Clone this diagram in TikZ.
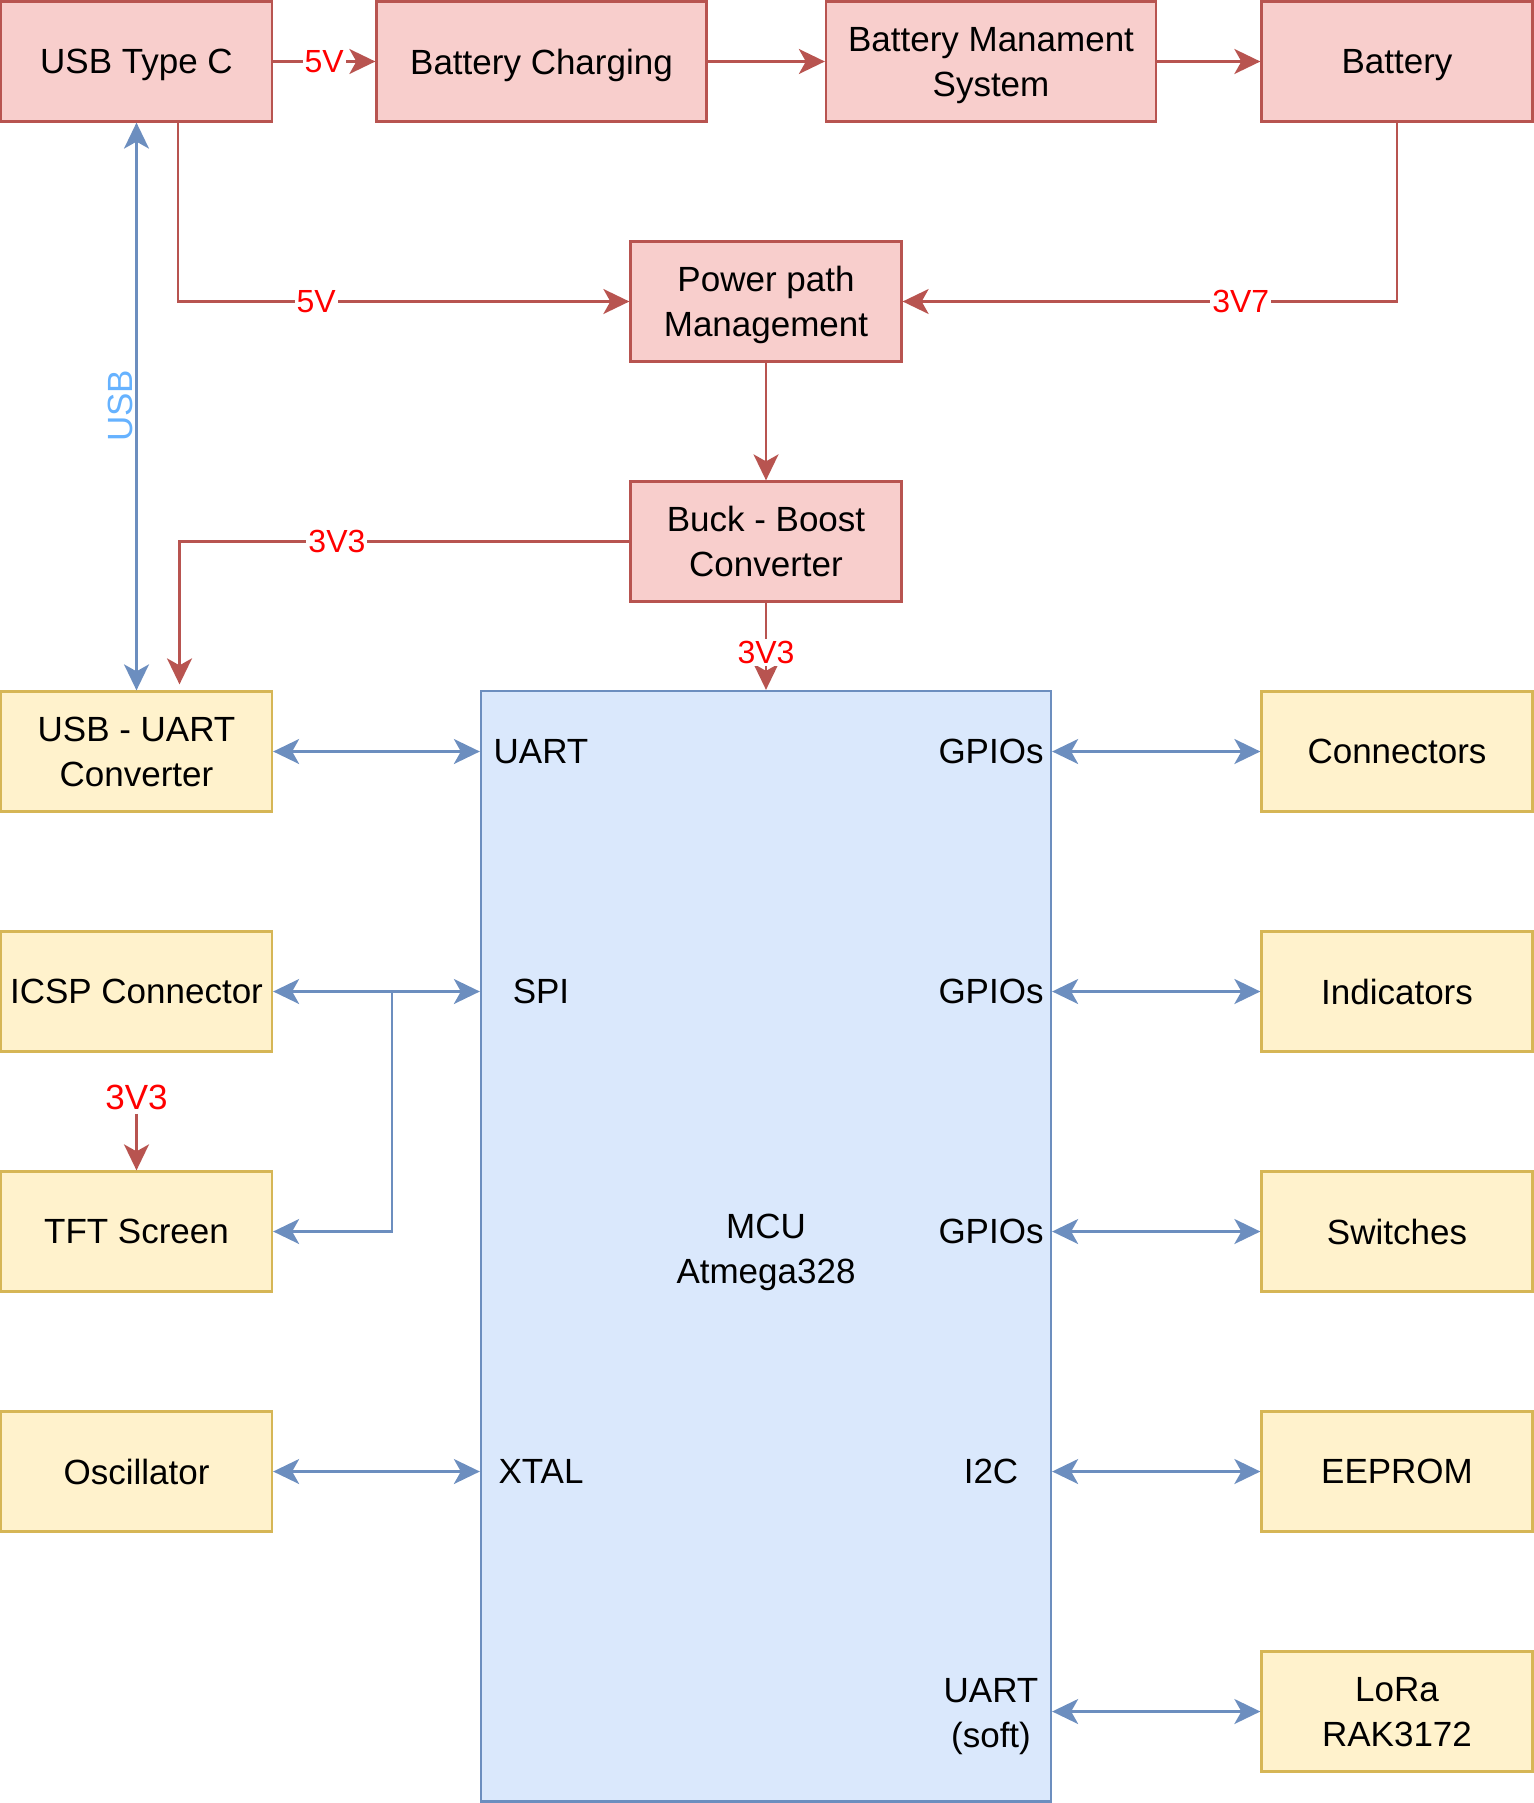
\documentclass[tikz,border=0pt]{standalone}
\usepackage{fontspec}
\setmainfont{Liberation Sans}
\usetikzlibrary{arrows.meta,calc}
\definecolor{rfill}{HTML}{F8CECC}
\definecolor{rdraw}{HTML}{B85450}
\definecolor{yfill}{HTML}{FFF2CC}
\definecolor{ydraw}{HTML}{D6B656}
\definecolor{bfill}{HTML}{DAE8FC}
\definecolor{bdraw}{HTML}{6C8EBF}
\definecolor{lblred}{HTML}{FF0000}
\definecolor{usbblue}{HTML}{66B2FF}
\begin{document}
\begin{tikzpicture}[x=0.5pt,y=-0.5pt,
  box/.style={draw, line width=1.15pt, minimum width=135.5pt, minimum height=60pt,
    inner sep=0pt, align=center, text depth=0pt, font=\fontsize{17.5}{22.5}\selectfont},
  rbox/.style={box, fill=rfill, draw=rdraw},
  ybox/.style={box, fill=yfill, draw=ydraw},
  widebox/.style={minimum width=165pt},
  txt/.style={font=\fontsize{17.5}{22.5}\selectfont, align=center, inner sep=0pt, text depth=0pt},
  lbl/.style={font=\fontsize{16}{19}\selectfont, text=lblred, fill=white, inner sep=1pt},
  pwr/.style={draw=rdraw, line width=1.15pt, -{Stealth[length=13pt,width=12.5pt,inset=3.5pt]}},
  sig/.style={draw=bdraw, line width=1.15pt,
    {Stealth[length=13pt,width=12.5pt,inset=3.5pt]}-{Stealth[length=13pt,width=12.5pt,inset=3.5pt]}},
  sigone/.style={draw=bdraw, line width=1.15pt, -{Stealth[length=13pt,width=12.5pt,inset=3.5pt]}},
]
\useasboundingbox (0,0) rectangle (1533,1803);

% MCU
\node[box, fill=bfill, draw=bdraw, minimum width=285pt, minimum height=555.25pt] (mcu) at (766,1246.25) {};
\node[txt] (mcutxt) at (766,1249) {MCU\\Atmega328};

% top row
\node[rbox] (usbc) at (136.5,61.5) {USB Type C};
\node[rbox, widebox] (chg) at (541.5,61.5) {Battery Charging};
\node[rbox, widebox] (bms) at (991,61.5) {Battery Manament\\System};
\node[rbox] (bat) at (1397,61.5) {Battery};
\node[rbox] (pp) at (766,301.5) {Power path\\Management};
\node[rbox] (buck) at (766,541.5) {Buck - Boost\\Converter};

% left column
\node[ybox] (uartc) at (136.5,751.5) {USB - UART\\Converter};
\node[ybox] (icsp) at (136.5,991.5) {ICSP Connector};
\node[ybox] (tft) at (136.5,1231.5) {TFT Screen};
\node[ybox] (osc) at (136.5,1471.5) {Oscillator};

% right column
\node[ybox] (conn) at (1397,751.5) {Connectors};
\node[ybox] (ind) at (1397,991.5) {Indicators};
\node[ybox] (sw) at (1397,1231.5) {Switches};
\node[ybox] (eep) at (1397,1471.5) {EEPROM};
\node[ybox] (lora) at (1397,1711.5) {LoRa\\RAK3172};

% MCU pin labels
\node[txt] (puart) at (541,751.5) {UART};
\node[txt] (pspi) at (541,991.5) {SPI};
\node[txt] (pxtal) at (541,1471.5) {XTAL};
\node[txt] (pg1) at (991,751.5) {GPIOs};
\node[txt] (pg2) at (991,991.5) {GPIOs};
\node[txt] (pg3) at (991,1231.5) {GPIOs};
\node[txt] (pi2c) at (991,1471.5) {I2C};
\node[txt] (psoft) at (991,1713) {UART\\(soft)};

% power connectors
\draw[pwr] (usbc.east) -- (chg.west) node[lbl, pos=0.5] {5V};
\draw[pwr] (chg.east) -- (bms.west);
\draw[pwr] (bms.east) -- (bat.west);
\draw[pwr] ([xshift=20.75pt]usbc.south) |- (pp.west) node[lbl, pos=0.653] {5V};
\draw[pwr] (bat.south) |- (pp.east) node[lbl, pos=0.658] {3V7};
\draw[pwr] (pp.south) -- (buck.north);
\draw[pwr] (buck.west) -| ([xshift=21.5pt,yshift=3pt]uartc.north) node[lbl, pos=0.325] {3V3};
\draw[pwr] (buck.south) -- (mcu.north) node[lbl, pos=0.57] {3V3};
\node[lbl, font=\fontsize{17.5}{21}\selectfont] (tftv) at (136.5,1097) {3V3};
\draw[pwr] ([yshift=-1pt]tftv.south) -- (tft.north);

% signal connectors
\draw[sig] (usbc.south) -- (uartc.north);
\node[font=\fontsize{17.5}{21}\selectfont, text=usbblue, rotate=90, inner sep=0pt] (usblbl) at (120,406) {USB};
\draw[sig] (uartc.east) -- (uartc.east -| mcu.west);
\draw[sig] (icsp.east) -- (icsp.east -| mcu.west);
\coordinate (spibr) at (392,991.5);
\draw[sigone] (spibr) |- (tft.east);
\draw[sig] (osc.east) -- (osc.east -| mcu.west);
\draw[sig] (conn.west -| mcu.east) -- (conn.west);
\draw[sig] (ind.west -| mcu.east) -- (ind.west);
\draw[sig] (sw.west -| mcu.east) -- (sw.west);
\draw[sig] (eep.west -| mcu.east) -- (eep.west);
\draw[sig] (lora.west -| mcu.east) -- (lora.west);
\end{tikzpicture}
\end{document}
